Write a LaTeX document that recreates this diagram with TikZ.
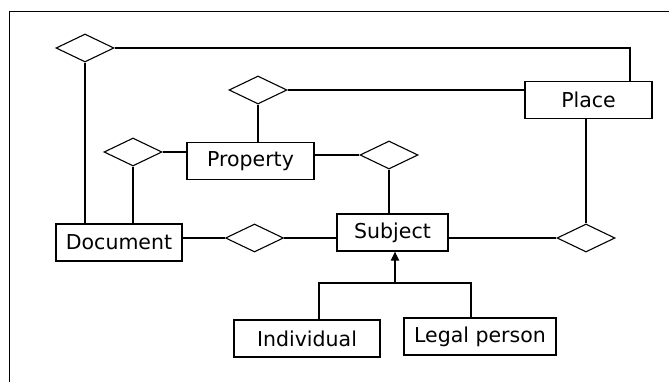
\documentclass[tikz,border=0pt]{standalone}
\usepackage{fontspec}
\setmainfont{DejaVu Sans}
\usetikzlibrary{shapes.geometric,arrows.meta}
\begin{document}
\begin{tikzpicture}[x=1pt,y=-1pt,
  every node/.style={font=\fontsize{20.5}{24}\selectfont},
  entity/.style={draw,line width=1.1pt,rectangle,inner sep=0pt,minimum height=37pt},
  relation/.style={draw,line width=1.1pt,diamond,aspect=2,inner sep=0pt,minimum width=58pt,minimum height=28pt},
  link/.style={line width=1.1pt}]
\useasboundingbox (0,0) rectangle (669,382);
% page frame (open to the right and bottom)
\draw[line width=1.3pt] (9.5,382) -- (9.5,11.5) -- (669,11.5);

% entities
\node[entity,minimum width=127pt] (place) at (588.5,100) {Place};
\node[entity,minimum width=127pt] (property) at (250.5,161) {Property};
\node[entity,minimum width=126pt] (document) at (119,242.5) {Document};
\node[entity,minimum width=111pt] (subject) at (392.5,232.5) {Subject};
\node[entity,minimum width=146pt] (individual) at (307,338.5) {Individual};
\node[entity,minimum width=152pt] (legal) at (480,336.5) {Legal person};

% relationships
\node[relation] (r1) at (85,48) {};
\node[relation] (r2) at (258,90) {};
\node[relation] (r3) at (133,152) {};
\node[relation] (r4) at (254.5,238) {};
\node[relation] (r5) at (389,155) {};
\node[relation] (r6) at (586,238) {};

% connections
\draw[link] (r1.east) -| ([xshift=41.5pt]place.north);
\draw[link] (r1.south) -- (r1.south |- document.north);
\draw[link] (r2.east) -- (r2.east -| place.west);
\draw[link] (r2.south) -- (r2.south |- property.north);
\draw[link] (r3.east) -- (r3.east -| property.west);
\draw[link] (r3.south) -- (r3.south |- document.north);
\draw[link] (r5.west -| property.east) -- (r5.west);
\draw[link] (r5.south) -- (r5.south |- subject.north);
\draw[link] (r4.west -| document.east) -- (r4.west);
\draw[link] (r4.east) -- (r4.east -| subject.west);
\draw[link] (r6.west -| subject.east) -- (r6.west);
\draw[link] (r6.north) -- (r6.north |- place.south);

% specialisation of Subject
\coordinate (joint) at (395,283);
\draw[link] ([xshift=12pt]individual.north) |- (joint) -| ([xshift=-9pt]legal.north);
\draw[line width=1.8pt,-{Triangle[length=9pt,width=8pt]}] (joint) -- (joint |- subject.south);
\end{tikzpicture}
\end{document}
